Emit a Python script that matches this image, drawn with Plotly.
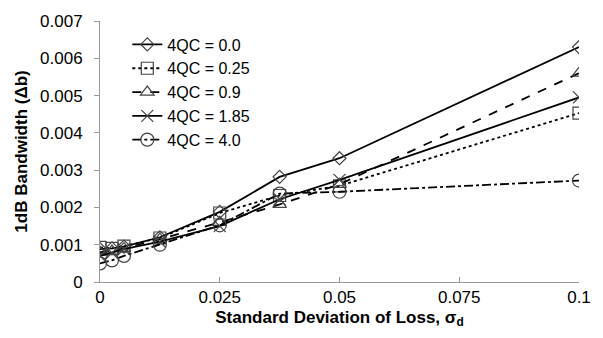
import plotly.graph_objects as go

x_vals = [0, 0.0025, 0.005, 0.0125, 0.025, 0.0375, 0.05, 0.1]
names = ["4QC = 0.0", "4QC = 0.25", "4QC = 0.9", "4QC = 1.85", "4QC = 4.0"]
qc00 = [0.00088, 0.00090, 0.00095, 0.00120, 0.00188, 0.00282, 0.00332, 0.00630]
qc025 = [0.00093, 0.00090, 0.00096, 0.00118, 0.00185, 0.00232, 0.00258, 0.00453]
qc09 = [0.00080, 0.00083, 0.00090, 0.00115, 0.00160, 0.00208, 0.00262, 0.00560]
qc185 = [0.00070, 0.00078, 0.00088, 0.00108, 0.00150, 0.00222, 0.00274, 0.00495]
qc40 = [0.00050, 0.00058, 0.00070, 0.00100, 0.00152, 0.00237, 0.00242, 0.00272]

series = [qc00, qc025, qc09, qc185, qc40]
dashes = ["solid", "dot", "dash", "solid", "dashdot"]
symbols = ["diamond-open", "square-open", "triangle-up-open", "x-thin-open", "circle-open"]
sizes = [10, 12, 12, 12, 13]

y_ticks = [0, 0.001, 0.002, 0.003, 0.004, 0.005, 0.006, 0.007]
y_text = ["0", "0.001", "0.002", "0.003", "0.004", "0.005", "0.006", "0.007"]
x_ticks = [0, 0.025, 0.05, 0.075, 0.1]
x_text = ["0", "0.025", "0.05", "0.075", "0.1"]

fig = go.Figure()
for name, ys, d, s, sz in zip(names, series, dashes, symbols, sizes):
    fig.add_trace(go.Scatter(
        x=x_vals, y=ys, name=name, mode="lines+markers",
        line=dict(color="black", width=1.8, dash=d),
        marker=dict(symbol=s, size=sz, color="#444444",
                    line=dict(color="#444444", width=1.2)),
    ))

fig.update_layout(
    width=603, height=338,
    margin=dict(l=100, r=23, t=16, b=56),
    paper_bgcolor="white", plot_bgcolor="white",
    font=dict(family="Liberation Sans, Arial", size=17, color="black"),
    legend=dict(x=0.057, y=0.975, xanchor="left", yanchor="top",
                bgcolor="rgba(0,0,0,0)", font=dict(size=16),
                tracegroupgap=0, itemwidth=30),
    showlegend=True,
)
fig.update_xaxes(
    range=[0, 0.1], tickvals=x_ticks, ticktext=x_text,
    showgrid=False, zeroline=False, showline=True, linecolor="#999999",
    ticks="inside", ticklen=5, tickcolor="#999999",
    title=dict(text="<b>Standard Deviation of Loss, σ<sub>d</sub></b>", font=dict(size=17), standoff=4),
)
fig.update_yaxes(
    range=[0, 0.007], tickvals=y_ticks, ticktext=y_text,
    showgrid=False, zeroline=False, showline=True, linecolor="#999999",
    ticks="outside", ticklen=5, tickcolor="#999999", ticklabelstandoff=8,
    title=dict(text="<b>1dB Bandwidth (Δb)</b>", font=dict(size=17), standoff=8),
)

fig.write_html("out.html")
